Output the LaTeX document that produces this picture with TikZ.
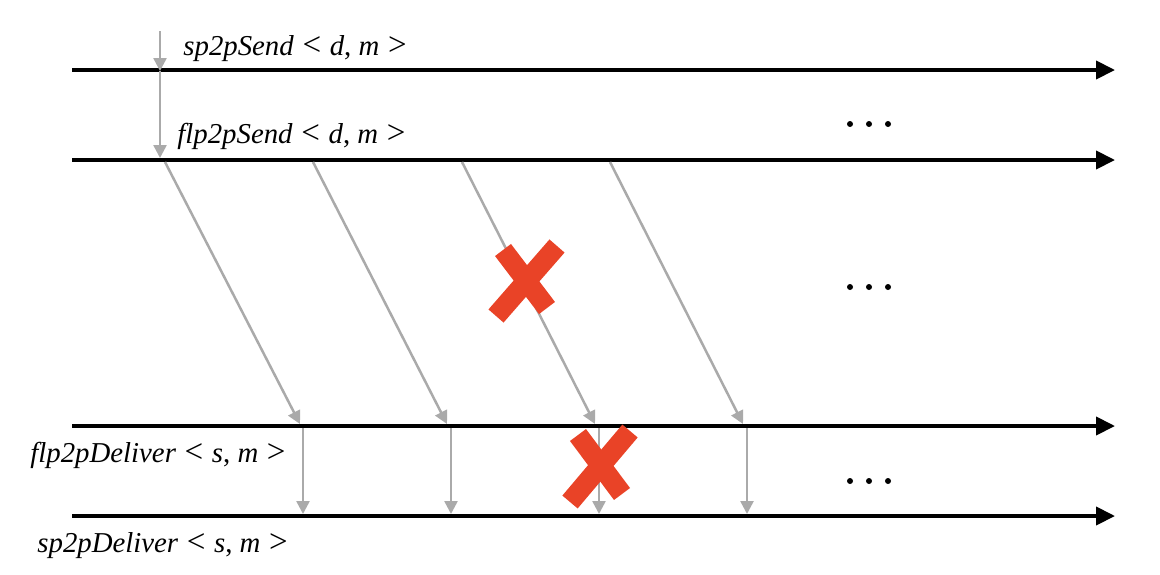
\documentclass[tikz,border=0pt]{standalone}
\usepackage{fontspec}
\setmainfont{Liberation Serif}
\usetikzlibrary{arrows.meta}
\definecolor{msggray}{RGB}{170,170,170}
\definecolor{crossred}{RGB}{233,67,39}
\newcommand{\myless}{\hspace{0.3em}{\upshape\fontsize{16.5}{16}\selectfont <}\hspace{0.3em}}
\newcommand{\mygreater}{\hspace{0.3em}{\upshape\fontsize{16.5}{16}\selectfont >}}
\newcommand{\mycomma}{,\hspace{0.25em}}
\begin{document}
\begin{tikzpicture}[x=0.5pt,y=-0.5pt,
  timeline/.style={line width=2pt,-{Triangle[length=9.5pt,width=9pt]}},
  msg/.style={draw=msggray,line width=1.25pt,-{Triangle[length=6.5pt,width=6.5pt]}},
  crossstroke/.style={draw=crossred,line width=10pt},
  lbl/.style={font=\fontsize{14.4}{16}\selectfont,inner sep=0pt,anchor=base west},
  dotmark/.style={fill=black}]
\useasboundingbox (0,0) rectangle (1160,574);
% timelines
\coordinate (a1) at (72,70);  \coordinate (a2) at (1115,70);
\coordinate (b1) at (72,160); \coordinate (b2) at (1115,160);
\coordinate (c1) at (72,426); \coordinate (c2) at (1115,426);
\coordinate (d1) at (72,516); \coordinate (d2) at (1115,516);
\draw[timeline] (a1) -- (a2);
\draw[timeline] (b1) -- (b2);
\draw[timeline] (c1) -- (c2);
\draw[timeline] (d1) -- (d2);
% labels
\node[lbl] (l1) at (183,55) {\textit{sp2pSend}\myless\textit{d}\mycomma\textit{m}\mygreater};
\node[lbl] (l2) at (177,143) {\textit{flp2pSend}\myless\textit{d}\mycomma\textit{m}\mygreater};
\node[lbl] (l3) at (30,462) {\textit{flp2pDeliver}\myless\textit{s}\mycomma\textit{m}\mygreater};
\node[lbl] (l4) at (37,552) {\textit{sp2pDeliver}\myless\textit{s}\mycomma\textit{m}\mygreater};
% send arrows
\coordinate (s0) at (160,31);
\coordinate (s1) at (160,71);
\coordinate (s2) at (160,158);
\draw[msg] (s0) -- (s1);
\draw[msg] (s1) -- (s2);
% diagonal messages
\coordinate (p1) at (165,162); \coordinate (q1) at (300,424);
\coordinate (p2) at (313,162); \coordinate (q2) at (447,424);
\coordinate (p3) at (462,162); \coordinate (q3) at (595,424);
\coordinate (p4) at (610,162); \coordinate (q4) at (743,424);
\draw[msg] (p1) -- (q1);
\draw[msg] (p2) -- (q2);
\draw[msg] (p3) -- (q3);
\draw[msg] (p4) -- (q4);
% delivery arrows
\coordinate (u1) at (303,428); \coordinate (v1) at (303,514);
\coordinate (u2) at (451,428); \coordinate (v2) at (451,514);
\coordinate (u3) at (599,428); \coordinate (v3) at (599,514);
\coordinate (u4) at (747,428); \coordinate (v4) at (747,514);
\draw[msg] (u1) -- (v1);
\draw[msg] (u2) -- (v2);
\draw[msg] (u3) -- (v3);
\draw[msg] (u4) -- (v4);
% crosses
\coordinate (x1a) at (557,246); \coordinate (x1b) at (496,316);
\coordinate (x1c) at (503,250); \coordinate (x1d) at (547,308);
\draw[crossstroke] (x1a) -- (x1b);
\draw[crossstroke] (x1c) -- (x1d);
\coordinate (x2a) at (630,431); \coordinate (x2b) at (570,502);
\coordinate (x2c) at (578,435); \coordinate (x2d) at (622,494);
\draw[crossstroke] (x2a) -- (x2b);
\draw[crossstroke] (x2c) -- (x2d);
% dots
\foreach \yy in {124,287,481}{
  \foreach \xx in {850,869,888}{
    \fill[dotmark] (\xx,\yy) circle[radius=1.5pt];
  }
}
\end{tikzpicture}
\end{document}
